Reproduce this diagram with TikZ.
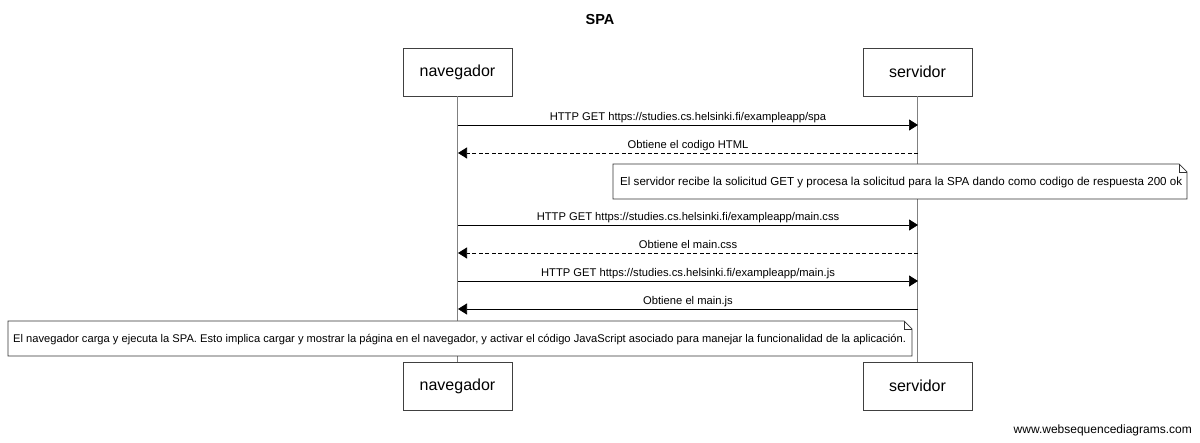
\documentclass[tikz,border=0pt]{standalone}
\usepackage{fontspec}
\setmainfont{Liberation Sans}
\usetikzlibrary{arrows.meta}
\begin{document}
\begin{tikzpicture}[x=1pt,y=-1pt,
  actor/.style={draw=black!75,line width=0.8pt,fill=white,minimum width=109pt,minimum height=48pt,inner sep=0pt,font=\fontsize{16}{18}\selectfont},
  life/.style={draw=black!50,line width=1pt},
  msg/.style={draw=black,line width=0.7pt,-{Triangle[length=9pt,width=11pt]}},
  reply/.style={msg,dash pattern=on 4pt off 2.5pt},
  lbl/.style={font=\fontsize{11.2}{13}\selectfont,inner sep=0pt,anchor=base},
  notetxt/.style={inner sep=0pt,anchor=base west},
  notebox/.style={draw=black!80,line width=0.7pt,fill=white}
]
\useasboundingbox (0,0) rectangle (1200,443);
\node[font=\bfseries\fontsize{14.5}{16}\selectfont] (title) at (600,20) {SPA};
% actors
\node[actor] (navT) at (457.5,72) {navegador};
\node[actor] (serT) at (917.5,72) {servidor};
\node[actor] (navB) at (457.5,386) {navegador};
\node[actor] (serB) at (917.5,386) {servidor};
\draw[life] (navT.south) -- (navB.north);
\draw[life] (serT.south) -- (serB.north);
% message coordinates
\foreach \i/\y in {1/125,2/153,4/225,5/253,6/281,7/309}{
  \coordinate (n\i) at (458,\y);
  \coordinate (s\i) at (918,\y);
}
\draw[msg] (n1) -- (s1);
\node[lbl] (l1) at (688,121) {HTTP GET https://studies.cs.helsinki.fi/exampleapp/spa};
\draw[reply] (s2) -- (n2);
\node[lbl] (l2) at (688,149) {Obtiene el codigo HTML};
% note 1
\draw[notebox] (613,164) -- (1179,164) -- (1187,172) -- (1187,199) -- (613,199) -- cycle;
\draw[black!80,line width=0.7pt] (1179,164) -- (1179,172) -- (1187,172);
\node[notetxt,font=\fontsize{11.6}{13}\selectfont] (note1) at (620,186) {El servidor recibe la solicitud GET y procesa la solicitud para la SPA dando como codigo de respuesta 200 ok};
\draw[msg] (n4) -- (s4);
\node[lbl] (l4) at (688,220.5) {HTTP GET https://studies.cs.helsinki.fi/exampleapp/main.css};
\draw[reply] (s5) -- (n5);
\node[lbl] (l5) at (688,248.5) {Obtiene el main.css};
\draw[msg] (n6) -- (s6);
\node[lbl] (l6) at (688,276.5) {HTTP GET https://studies.cs.helsinki.fi/exampleapp/main.js};
\draw[msg] (s7) -- (n7);
\node[lbl] (l7) at (688,304.5) {Obtiene el main.js};
% note 2
\draw[notebox] (8,321) -- (904,321) -- (912,329) -- (912,356) -- (8,356) -- cycle;
\draw[black!80,line width=0.7pt] (904,321) -- (904,329) -- (912,329);
\node[notetxt,font=\fontsize{11.15}{13}\selectfont] (note2) at (13,343) {El navegador carga y ejecuta la SPA. Esto implica cargar y mostrar la página en el navegador, y activar el código JavaScript asociado para manejar la funcionalidad de la aplicación.};
\node[font=\fontsize{12}{14}\selectfont,anchor=east,inner sep=0pt] (footer) at (1192,430) {www.websequencediagrams.com};
\end{tikzpicture}
\end{document}
